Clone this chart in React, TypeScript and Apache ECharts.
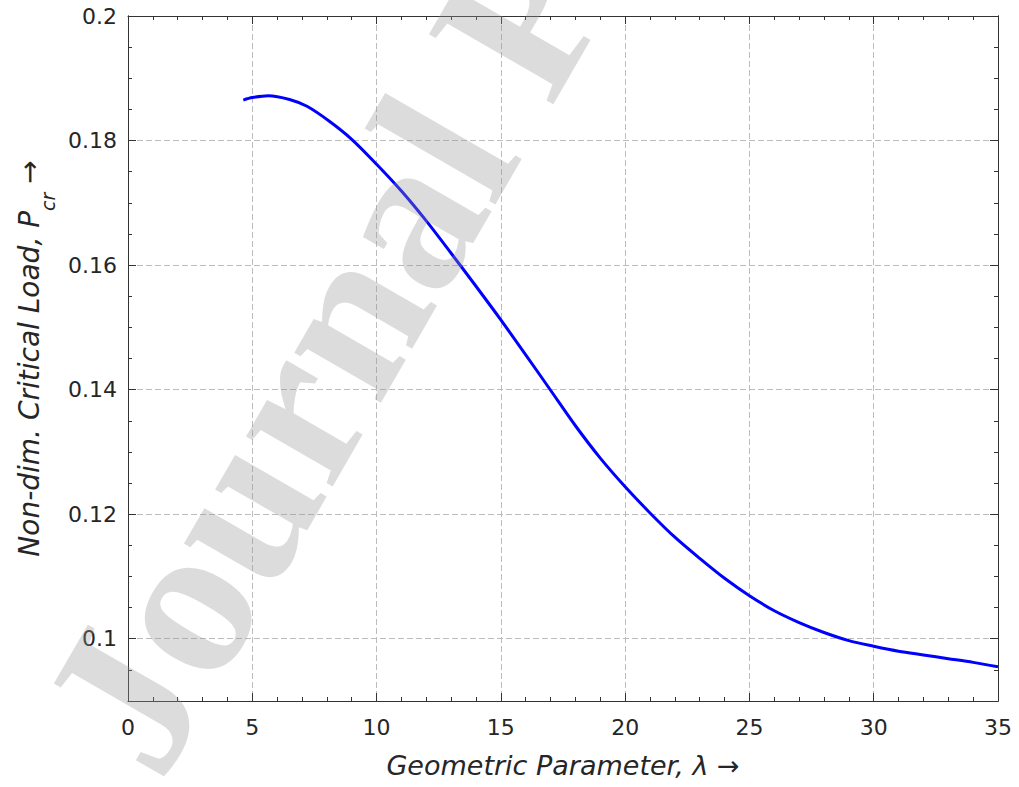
import React, { useEffect, useRef } from "react";
import * as echarts from "echarts";

const lambdaValues = [4.64, 5.0, 5.64, 6.5, 7.2, 8.1, 9, 10, 11, 12, 13, 14, 15, 16, 17, 18, 19, 20, 21, 22, 23, 24, 25, 26, 27, 28, 29, 30, 31, 32, 33, 34, 35];
const pcrValues = [0.1865, 0.1869, 0.1872, 0.1866, 0.1855, 0.1831, 0.1802, 0.1762, 0.1719, 0.1671, 0.1619, 0.1566, 0.1512, 0.1456, 0.1399, 0.1342, 0.129, 0.1244, 0.1202, 0.1163, 0.1129, 0.1097, 0.1069, 0.1045, 0.1026, 0.101, 0.0997, 0.0988, 0.098, 0.0974, 0.0968, 0.0962, 0.0955];
const yMajorTicks = [0.1, 0.12, 0.14, 0.16, 0.18, 0.2];
const xTitle = "Geometric Parameter, λ →";
const watermark = "Journal Pre-proof";

const AXIS_COLOR = "#333333";
const FONT = "DejaVu Sans";

export default function App() {
  const ref = useRef<HTMLDivElement>(null);
  useEffect(() => {
    if (!ref.current) return;
    const chart = echarts.init(ref.current, null, { renderer: "svg" });
    const data = lambdaValues.map((x, i) => [x, pcrValues[i]]);
    const xBase = {
      type: "value",
      min: 0,
      max: 35,
      interval: 5,
      axisLine: { show: true, onZero: false, lineStyle: { color: AXIS_COLOR, width: 1 } },
      axisTick: { show: true, inside: true, length: 8, lineStyle: { color: AXIS_COLOR } },
      minorTick: { show: true, splitNumber: 5, length: 4, lineStyle: { color: AXIS_COLOR } },
    };
    const yMinor = {
      type: "value",
      min: 0.09,
      max: 0.2,
      interval: 0.005,
      axisLine: { show: true, onZero: false, lineStyle: { color: AXIS_COLOR, width: 1 } },
      axisTick: { show: true, inside: true, length: 4, lineStyle: { color: AXIS_COLOR } },
      axisLabel: { show: false },
      splitLine: { show: false },
    };
    chart.setOption({
      animation: false,
      backgroundColor: "#ffffff",
      grid: { left: 128, right: 21, top: 16, bottom: 86 },
      xAxis: [
        {
          ...xBase,
          position: "bottom",
          name: xTitle,
          nameLocation: "middle",
          nameGap: 51,
          nameTextStyle: { fontFamily: FONT, fontStyle: "italic", fontSize: 27, color: "#262626" },
          axisLabel: { margin: 15, fontFamily: FONT, fontSize: 22, color: "#262626" },
          splitLine: { show: true, lineStyle: { color: "#bcbcbc", type: [6, 3], width: 1 } },
        },
        {
          ...xBase,
          position: "top",
          axisLabel: { show: false },
          splitLine: { show: false },
        },
      ],
      yAxis: [
        {
          type: "value",
          position: "left",
          min: 0.09,
          max: 0.2,
          interval: 0.005,
          name: "{t|Non-dim. Critical Load, P}{s|cr}{t| →}",
          nameLocation: "middle",
          nameGap: 80,
          nameRotate: 90,
          nameTextStyle: {
            rich: {
              t: { fontFamily: FONT, fontStyle: "italic", fontSize: 28, color: "#262626" },
              s: { fontFamily: FONT, fontStyle: "italic", fontSize: 19, color: "#262626", verticalAlign: "bottom", padding: [0, 0, -14, 0] },
            },
          },
          axisLine: { show: true, onZero: false, lineStyle: { color: AXIS_COLOR, width: 1 } },
          axisTick: { show: true, inside: true, length: 8, customValues: yMajorTicks, lineStyle: { color: AXIS_COLOR } },
          axisLabel: {
            customValues: yMajorTicks,
            margin: 11,
            fontFamily: FONT,
            fontSize: 22,
            color: "#262626",
            formatter: (v: number) => String(+v.toFixed(2)),
          },
          splitLine: { show: true, lineStyle: { color: "#bcbcbc", type: [6, 3], width: 1 } },
        },
        { ...yMinor, position: "left" },
        {
          type: "value",
          position: "right",
          min: 0.09,
          max: 0.2,
          interval: 0.005,
          axisLine: { show: true, onZero: false, lineStyle: { color: AXIS_COLOR, width: 1 } },
          axisTick: { show: true, inside: true, length: 8, customValues: yMajorTicks, lineStyle: { color: AXIS_COLOR } },
          axisLabel: { show: false },
          splitLine: { show: false },
        },
        { ...yMinor, position: "right" },
      ],
      series: [
        {
          type: "line",
          xAxisIndex: 0,
          yAxisIndex: 0,
          data,
          smooth: 0.3,
          showSymbol: false,
          lineStyle: { color: "#0000ff", width: 3 },
          z: 3,
        },
      ],
      graphic: [
        {
          type: "text",
          x: 2,
          y: 694,
          rotation: 1.047,
          z: 100,
          silent: true,
          style: {
            text: watermark,
            fontFamily: "Liberation Serif",
            fontWeight: "bold",
            fontSize: 218,
            fill: "rgba(150,150,150,0.33)",
            textAlign: "left",
            textVerticalAlign: "top",
          },
        },
      ],
    });
    return () => chart.dispose();
  }, []);
  return (
    <div
      ref={ref}
      style={{ position: "absolute", left: 0, top: 0, width: 1019, height: 787, background: "#fff" }}
    />
  );
}
